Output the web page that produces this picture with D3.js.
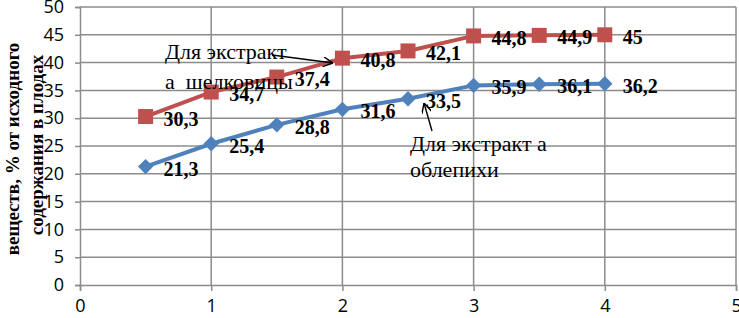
<!DOCTYPE html>
<html><head><meta charset="utf-8">
<script src="https://cdn.jsdelivr.net/npm/d3@7"></script>
<style>body{margin:0;background:#fff}svg{display:block}</style>
</head><body>
<svg id="c" width="739" height="318"></svg>
<script>
const xValues = [0.5, 1, 1.5, 2, 2.5, 3, 3.5, 4];
const mulberry = [30.3, 34.7, 37.4, 40.8, 42.1, 44.8, 44.9, 45];
const seaBuckthorn = [21.3, 25.4, 28.8, 31.6, 33.5, 35.9, 36.1, 36.2];
const labelsMulberry = ["30,3","34,7","37,4","40,8","42,1","44,8","44,9","45"];
const labelsSea = ["21,3","25,4","28,8","31,6","33,5","35,9","36,1","36,2"];
const xTicks = [0,1,2,3,4,5];
const yTicks = [0,5,10,15,20,25,30,35,40,45,50];
const yTitle = ["веществ, % от исходного", "содержания в плодах"];
const noteMulberry = ["Для экстракт", "а  шелковицы"];
const noteSea = ["Для экстракт а", "облепихи"];

const svg = d3.select("#c");
const x = d3.scaleLinear().domain([0,5]).range([80,736]);
const y = d3.scaleLinear().domain([0,50]).range([285,7]);
const grid = "#8c8c8c";

svg.append("defs").append("marker").attr("id","arr").attr("viewBox","0 0 10 10")
  .attr("refX",10).attr("refY",5).attr("markerWidth",10).attr("markerHeight",10)
  .attr("markerUnits","userSpaceOnUse").attr("orient","auto")
  .append("path").attr("d","M0,0 L10,5 L0,10").attr("fill","none").attr("stroke","#000").attr("stroke-width",1.4);

// gridlines
svg.append("g").selectAll("line").data(yTicks.filter(d=>d>0)).join("line")
  .attr("x1",x(0)).attr("x2",x(5)).attr("y1",d=>y(d)).attr("y2",d=>y(d))
  .attr("stroke",grid).attr("stroke-width",1.5);
svg.append("g").selectAll("line").data(xTicks.filter(d=>d>0)).join("line")
  .attr("x1",d=>x(d)).attr("x2",d=>x(d)).attr("y1",y(0)).attr("y2",y(50))
  .attr("stroke",grid).attr("stroke-width",1.5);

// y title (drawn under tick labels as in the reference)
const tg = svg.append("g").attr("font-family","'Liberation Serif', serif").attr("font-weight","bold").attr("font-size",19).attr("fill","#000");
tg.append("text").attr("transform","translate(19,149) rotate(-90)").attr("text-anchor","middle").text(yTitle[0]);
tg.append("text").attr("transform","translate(43,145) rotate(-90)").attr("text-anchor","middle").text(yTitle[1]);

// axes
const ax = svg.append("g").attr("transform",`translate(0,${y(0)})`)
  .call(d3.axisBottom(x).tickValues(xTicks).tickSize(6).tickPadding(8).tickFormat(d3.format("d")));
const ay = svg.append("g").attr("transform",`translate(${x(0)},0)`)
  .call(d3.axisLeft(y).tickValues(yTicks).tickSize(5).tickPadding(11).tickFormat(d3.format("d")));
[ax,ay].forEach(g=>{
  g.selectAll("path,line").attr("stroke",grid).attr("stroke-width",1.5);
  g.selectAll("text").attr("font-family","'Open Sans', sans-serif").attr("font-weight",400).attr("font-size",18).attr("fill","#000");
});
ax.selectAll("text").filter(d=>d===5).attr("text-anchor","end").attr("dx","0.3em");

// series
function series(vals, color, shape, labels){
  const pts = xValues.map((d,i)=>[d, vals[i]]);
  svg.append("path").datum(pts).attr("fill","none").attr("stroke",color).attr("stroke-width",4)
    .attr("d", d3.line().x(d=>x(d[0])).y(d=>y(d[1])));
  svg.append("g").selectAll("path").data(pts).join("path")
    .attr("transform",d=>`translate(${x(d[0])},${y(d[1])})`)
    .attr("d", d3.symbol().type(shape).size(shape===d3.symbolSquare?225:150)())
    .attr("fill",color);
  svg.append("g").selectAll("text").data(pts).join("text")
    .attr("x",d=>x(d[0])+18).attr("y",d=>y(d[1])+9)
    .attr("font-family","'Liberation Serif', serif").attr("font-weight","bold").attr("font-size",20)
    .text((d,i)=>labels[i]);
}
series(mulberry, "#C0504D", d3.symbolSquare, labelsMulberry);
series(seaBuckthorn, "#4F81BD", d3.symbolDiamond2, labelsSea);

// annotations
const nb = s => s.replace(/ /g, "\u00a0");
const an = svg.append("g").attr("font-family","'Liberation Serif', serif").attr("font-size",22).attr("fill","#000");
an.append("text").attr("x",165).attr("y",59).text(nb(noteMulberry[0]));
an.append("text").attr("x",165).attr("y",89).text(nb(noteMulberry[1]));
an.append("text").attr("x",410).attr("y",151).text(nb(noteSea[0]));
an.append("text").attr("x",410).attr("y",177).text(nb(noteSea[1]));
svg.append("line").attr("x1",272).attr("y1",55).attr("x2",333).attr("y2",63)
  .attr("stroke","#000").attr("stroke-width",1.4).attr("marker-end","url(#arr)");
svg.append("line").attr("x1",432).attr("y1",131).attr("x2",424).attr("y2",103)
  .attr("stroke","#000").attr("stroke-width",1.4).attr("marker-end","url(#arr)");
</script>
</body></html>
